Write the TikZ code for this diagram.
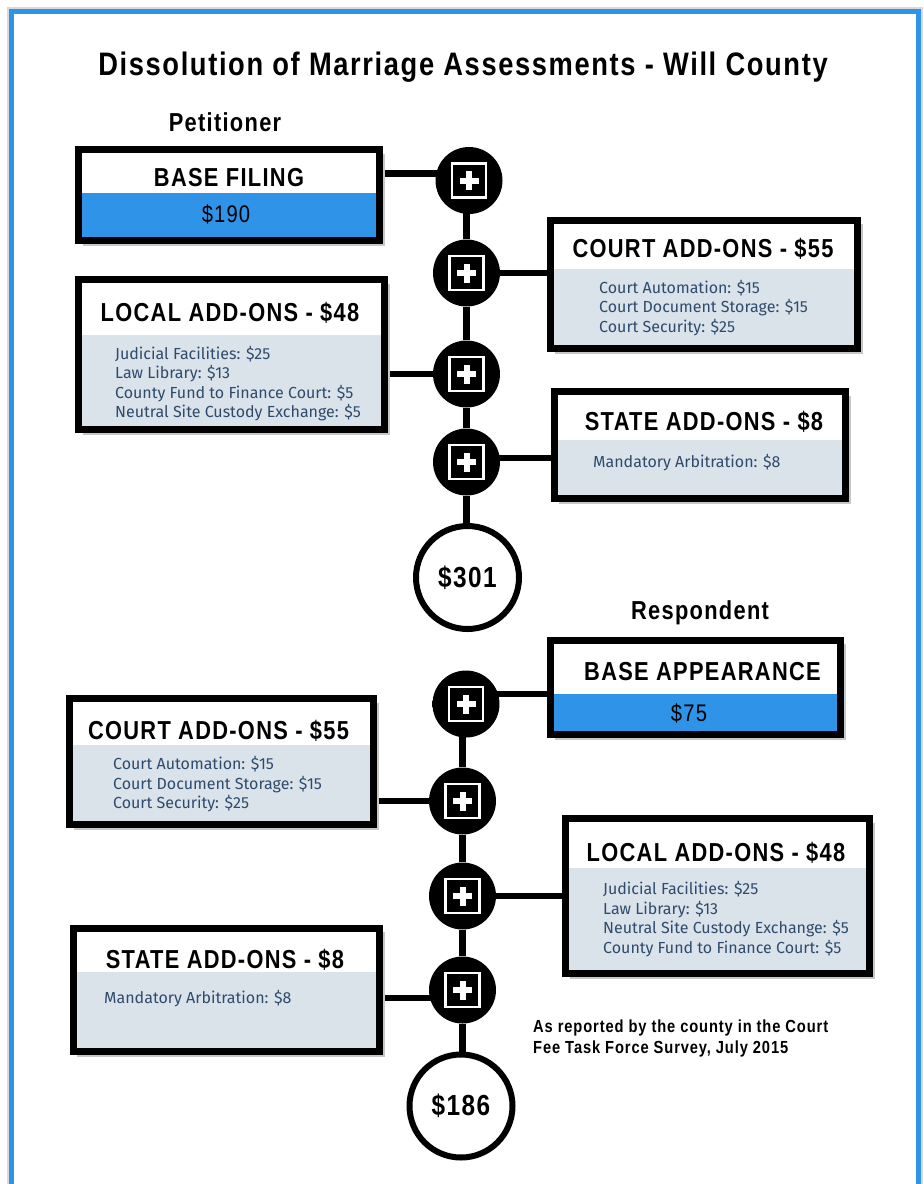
\documentclass[tikz,border=0pt]{standalone}
\usepackage{fontspec}
\usetikzlibrary{fit}
\newfontfamily\hdfont[FakeStretch=0.84,LetterSpace=5]{Liberation Sans}
\newfontfamily\bodyfont{Fira Sans}
\definecolor{feeblue}{HTML}{2F93E8}
\definecolor{feegray}{HTML}{DAE2EA}
\definecolor{feetext}{HTML}{2E4B6C}
\pgfdeclarelayer{paper}
\pgfdeclarelayer{bg}
\pgfsetlayers{paper,bg,main}

\tikzset{
  boxframe/.style={draw=black, line width=7pt, inner sep=0pt},
  addcircle/.style={circle, fill=black, minimum size=67pt, inner sep=0pt,
    path picture={
      \draw[white, line width=2.5pt]
        ([shift={(-17pt,-17pt)}]path picture bounding box.center) rectangle
        ([shift={(17pt,17pt)}]path picture bounding box.center);
      \fill[white]
        ([shift={(-9.5pt,-3pt)}]path picture bounding box.center) rectangle
        ([shift={(9.5pt,3pt)}]path picture bounding box.center);
      \fill[white]
        ([shift={(-3pt,-9.5pt)}]path picture bounding box.center) rectangle
        ([shift={(3pt,9.5pt)}]path picture bounding box.center);
    }},
  totalcircle/.style={circle, draw=black, line width=6pt, fill=white,
    minimum size=103pt, inner sep=0pt,
    font=\hdfont\bfseries\fontsize{29}{32}\selectfont},
  link/.style={line width=6.5pt, draw=black},
  titletext/.style={anchor=base, inner sep=0pt,
    font=\hdfont\bfseries\fontsize{32.5}{36}\selectfont},
  sidetext/.style={anchor=base, inner sep=0pt,
    font=\hdfont\bfseries\fontsize{26}{30}\selectfont},
  headtext/.style={anchor=base, inner sep=0pt,
    font=\hdfont\bfseries\fontsize{26}{30}\selectfont},
  amounttext/.style={anchor=base, inner sep=0pt,
    font=\hdfont\fontsize{24}{27}\selectfont},
  itemtext/.style={anchor=base west, inner sep=0pt, text=feetext,
    font=\bodyfont\fontsize{16}{19}\selectfont},
  notetext/.style={anchor=base west, inner sep=0pt,
    font=\hdfont\bfseries\fontsize{17.5}{21}\selectfont},
}

% fee box: name, x1, y1, x2, y2 (frame centre line), split y, lower colour
\newcommand\feebox[7]{%
  \fill[black!22] (#2+4,#3+4) rectangle (#4+5.5,#5+5.5);
  \fill[white] (#2,#3) rectangle (#4,#6);
  \fill[#7] (#2,#6) rectangle (#4,#5);
  \node[boxframe, fit={(#2,#3) (#4,#5)}] (#1) {};
}
% item lines: name, x, first baseline, list of lines
\newcommand\itemlines[4]{%
  \foreach \t [count=\i] in {#4}
    \node[itemtext] (#1-\i) at ({#2},{#3+(\i-1)*19.6}) {\t};
}

\begin{document}
\begin{tikzpicture}[x=1pt,y=-1pt]
\useasboundingbox (0,0) rectangle (924,1184);
\begin{pgfonlayer}{paper}
  \fill[white] (0,0) rectangle (924,1184);
\end{pgfonlayer}

% page frame
\draw[black!15, line width=2pt] (8,8) rectangle (922,1200);
\draw[feeblue, line width=5pt] (11.5,11.5) rectangle (918.5,1200);

\node[titletext] (title) at (463,75) {Dissolution of Marriage Assessments - Will County};

% ---------------- Petitioner ----------------
\node[sidetext] (pet) at (225,131) {Petitioner};

\feebox{bf}{78.5}{149.5}{379}{240}{193}{feeblue}
\node[headtext] (bf-h) at (229,186) {BASE FILING};
\node[amounttext] (bf-a) at (226,222) {\$190};

\feebox{pc}{550.5}{220}{857.5}{348.5}{269}{feegray}
\node[headtext] (pc-h) at (703,257) {COURT ADD-ONS - \$55};
\itemlines{pc}{599}{293}{Court Automation: \$15, Court Document Storage: \$15, Court Security: \$25}

\feebox{pl}{78.5}{279.5}{384}{429}{335}{feegray}
\node[headtext] (pl-h) at (230,321) {LOCAL ADD-ONS - \$48};
\itemlines{pl}{115}{359}{Judicial Facilities: \$25, Law Library: \$13, County Fund to Finance Court: \$5, Neutral Site Custody Exchange: \$5}

\feebox{ps}{554.5}{391.5}{845.5}{498.5}{440}{feegray}
\node[headtext] (ps-h) at (704,430) {STATE ADD-ONS - \$8};
\itemlines{ps}{593}{467}{Mandatory Arbitration: \$8}

\node[addcircle] (c1) at (469,180.5) {};
\node[addcircle] (c2) at (466.5,273) {};
\node[addcircle] (c3) at (466.5,374) {};
\node[addcircle] (c4) at (466.5,462) {};
\node[totalcircle] (t1) at (467.5,577.5) {\$301};

% ---------------- Respondent ----------------
\node[sidetext] (resp) at (700,619) {Respondent};

\feebox{ra}{550.5}{640}{840}{734}{694}{feeblue}
\node[headtext] (ra-h) at (702.5,680) {BASE APPEARANCE};
\node[amounttext] (ra-a) at (689,721) {\$75};

\feebox{rc}{69.5}{698.5}{373.5}{824.5}{745}{feegray}
\node[headtext] (rc-h) at (218.5,739) {COURT ADD-ONS - \$55};
\itemlines{rc}{113}{769.5}{Court Automation: \$15, Court Document Storage: \$15, Court Security: \$25}

\feebox{rl}{565.5}{818.5}{869.5}{973.5}{868}{feegray}
\node[headtext] (rl-h) at (716,861) {LOCAL ADD-ONS - \$48};
\itemlines{rl}{603}{894.5}{Judicial Facilities: \$25, Law Library: \$13, Neutral Site Custody Exchange: \$5, County Fund to Finance Court: \$5}

\feebox{rs}{73}{928}{379.5}{1051.5}{972}{feegray}
\node[headtext] (rs-h) at (225,968) {STATE ADD-ONS - \$8};
\itemlines{rs}{104}{1003}{Mandatory Arbitration: \$8}

\node[addcircle] (c5) at (466,704) {};
\node[addcircle] (c6) at (462.5,801) {};
\node[addcircle] (c7) at (462.5,896) {};
\node[addcircle] (c8) at (462.5,990) {};
\node[totalcircle] (t2) at (461,1106) {\$186};

\node[notetext] (note1) at (533,1032) {As reported by the county in the Court};
\node[notetext] (note2) at (533,1053) {Fee Task Force Survey, July 2015};

% ---------------- connectors ----------------
\begin{pgfonlayer}{bg}
  \draw[link] (c2 |- c1) -- (c2) -- (c3) -- (c4) -- (c4 |- t1.north);
  \draw[link] ([yshift=7pt]c1.center -| bf.east) -- ([yshift=7pt]c1.center);
  \draw[link] (c2) -- (c2 -| pc.west);
  \draw[link] (pl.east |- c3) -- (c3);
  \draw[link] ([yshift=4pt]c4.center) -- ([yshift=4pt]c4.center -| ps.west);

  \draw[link] (c5) -- (c6 |- c5) -- (c6) -- (c7) -- (c8) -- (c8 |- t2.north);
  \draw[link] ([yshift=10pt]c5.center) -- ([yshift=10pt]c5.center -| ra.west);
  \draw[link] (rc.east |- c6) -- (c6);
  \draw[link] (c7) -- (c7 -| rl.west);
  \draw[link] ([yshift=-8pt]c8.center -| rs.east) -- ([yshift=-8pt]c8.center);
\end{pgfonlayer}
\end{tikzpicture}
\end{document}
